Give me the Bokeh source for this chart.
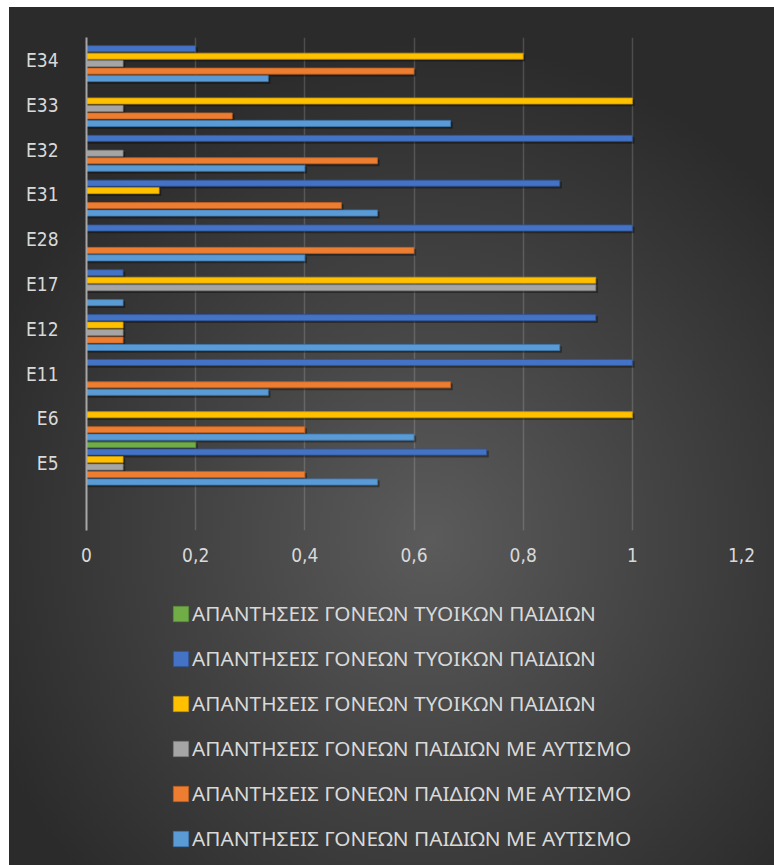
from bokeh.plotting import figure
from bokeh.layouts import column
from bokeh.models import (ColumnDataSource, FactorRange, FixedTicker,
                          CustomJSTickFormatter, Legend, LegendItem)
from bokeh.transform import dodge
from bokeh.embed import file_html
from bokeh.resources import INLINE

# ---------------- data ----------------
categories = [" ", "E5", "E6", "E11", "E12", "E17", "E28", "E31", "E32", "E33", "E34"]

typ_green  = [0, 0.2,   0,   0,     0,     0,     0,   0,     0,     0,     0]
typ_blue   = [0, 0.733, 0,   1.0,   0.933, 0.067, 1.0, 0.867, 1.0,   0,     0.2]
typ_yellow = [0, 0.067, 1.0, 0,     0.067, 0.933, 0,   0.133, 0,     1.0,   0.8]
aut_gray   = [0, 0.067, 0,   0,     0.067, 0.933, 0,   0,     0.067, 0.067, 0.067]
aut_orange = [0, 0.4,   0.4, 0.667, 0.067, 0,     0.6, 0.467, 0.533, 0.267, 0.6]
aut_lblue  = [0, 0.533, 0.6, 0.333, 0.867, 0.067, 0.4, 0.533, 0.4,   0.667, 0.333]

label_typ = "ΑΠΑΝΤΗΣΕΙΣ ΓΟΝΕΩΝ ΤΥΟΙΚΩΝ ΠΑΙΔΙΩΝ"
label_aut = "ΑΠΑΝΤΗΣΕΙΣ ΓΟΝΕΩΝ ΠΑΙΔΙΩΝ ΜΕ ΑΥΤΙΣΜΟ"

x_ticks = [0, 0.2, 0.4, 0.6, 0.8, 1.0, 1.2]

# order: top of group -> bottom of group
series = [
    (label_typ, typ_green,  "#70ad47", "#5a8f39"),
    (label_typ, typ_blue,   "#4472c4", "#2f5597"),
    (label_typ, typ_yellow, "#ffc000", "#c99700"),
    (label_aut, aut_gray,   "#a5a5a5", "#7f7f7f"),
    (label_aut, aut_orange, "#ed7d31", "#c0601f"),
    (label_aut, aut_lblue,  "#5b9bd5", "#3d7ab3"),
]
slot = 1.0 / 6
offsets = [slot * (2.5 - i) for i in range(6)]

# ---------------- chart figure ----------------
p = figure(width=774, height=590, y_range=FactorRange(factors=categories),
           x_range=(0, 1.2), output_backend="svg", toolbar_location=None,
           min_border_left=86, min_border_right=33, min_border_top=37,
           min_border_bottom=60)
p.border_fill_color = None
p.background_fill_color = None
p.outline_line_color = None

sources = []
for (name, vals, col, dark), off in zip(series, offsets):
    cats = [c for c, v in zip(categories, vals) if v > 0]
    vv = [v for v in vals if v > 0]
    src = ColumnDataSource(dict(cat=cats, val=vv, sh=[v + 0.004 for v in vv]))
    sources.append(src)
    p.hbar(y=dodge("cat", off - 0.045, range=p.y_range), right="sh", left=0,
           height=0.15, source=src, fill_color="black", fill_alpha=0.35,
           line_color=None)
    p.hbar(y=dodge("cat", off, range=p.y_range), right="val", left=0,
           height=0.135, source=src, fill_color=col, line_color=dark,
           line_width=0.8)

p.xaxis.ticker = FixedTicker(ticks=x_ticks)
p.xaxis.formatter = CustomJSTickFormatter(
    code="return String(Math.round(tick*10)/10).replace('.', ',');")
p.xaxis.axis_line_color = None
p.xaxis.major_tick_line_color = None
p.xaxis.minor_tick_line_color = None
p.xaxis.major_label_standoff = 11
p.xaxis.major_label_text_color = "#d9d9d9"
p.xaxis.major_label_text_font = "DejaVu Sans Condensed"
p.xaxis.major_label_text_font_size = "19px"

p.yaxis.axis_line_color = "#a6a6a6"
p.yaxis.axis_line_width = 2
p.yaxis.major_tick_line_color = None
p.yaxis.minor_tick_line_color = None
p.yaxis.major_label_standoff = 22
p.yaxis.major_label_text_color = "#d9d9d9"
p.yaxis.major_label_text_font = "DejaVu Sans Condensed"
p.yaxis.major_label_text_font_size = "19px"

p.ygrid.grid_line_color = None
p.xgrid.grid_line_color = "#ffffff"
p.xgrid.grid_line_alpha = 0.16
p.xgrid.grid_line_width = 1.5

# ---------------- legend figure ----------------
q = figure(width=774, height=275, output_backend="svg", toolbar_location=None,
           y_range=FactorRange(factors=categories), x_range=(0, 1.2),
           min_border=0, x_axis_type=None, y_axis_type=None)
q.border_fill_color = None
q.background_fill_color = None
q.outline_line_color = None
q.xgrid.grid_line_color = None
q.ygrid.grid_line_color = None

items = []
for (name, vals, col, dark), src in zip(series, sources):
    r = q.hbar(y="cat", right="val", left=0, height=0.5, source=src,
               fill_color=col, line_color=dark, line_width=0.8, visible=False)
    items.append(LegendItem(label=name, renderers=[r]))

legend = Legend(items=items, location=(85, 13), orientation="vertical",
                glyph_width=19, glyph_height=19, label_height=28, spacing=17,
                padding=0, margin=0, label_standoff=2,
                label_text_color="#d9d9d9", label_text_font="Noto Sans",
                label_text_font_size="20.8px", inactive_fill_alpha=0,
                border_line_color=None, background_fill_alpha=0)
q.add_layout(legend, "center")

layout = column(p, q, spacing=0)
layout.styles = {
    "background": "radial-gradient(ellipse 62% 58% at 55% 62%, #5b5b5b 0%, #454545 45%, #2b2b2b 100%) 9px 7px / 765px 858px no-repeat, #ffffff"
}

open("out.html", "w").write(file_html(layout, INLINE))
